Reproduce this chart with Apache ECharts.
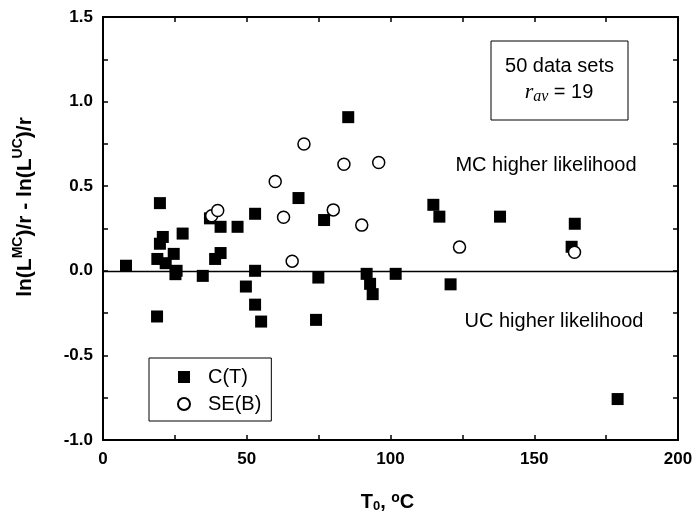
<!DOCTYPE html>
<html>
<head>
<meta charset="utf-8">
<script src="https://cdn.jsdelivr.net/npm/echarts@6/dist/echarts.min.js"></script>
<style>html,body{margin:0;padding:0;background:#fff}#c{width:697px;height:514px}</style>
</head>
<body>
<div id="c"></div>
<script>
// C(T) series (filled squares)
var ctX = [8.0, 19.8, 20.8, 19.8, 18.9, 21.8, 24.6, 25.6, 25.2, 27.7, 34.7, 18.8, 39.0, 40.9, 37.2, 40.9, 46.8, 52.9, 52.9, 49.7, 52.9, 55.0, 68.0, 76.9, 74.9, 74.1, 85.3, 91.7, 92.9, 93.8, 101.8, 114.9, 117.0, 120.9, 138.1, 164.1, 163.0, 179.0];
var ctY = [0.03, 0.40, 0.20, 0.16, 0.07, 0.045, 0.10, 0.00, -0.02, 0.22, -0.03, -0.27, 0.07, 0.105, 0.31, 0.26, 0.26, 0.337, 0.0, -0.093, -0.20, -0.30, 0.43, 0.30, -0.04, -0.29, 0.908, -0.018, -0.077, -0.138, -0.018, 0.39, 0.32, -0.08, 0.32, 0.278, 0.142, -0.758];
// SE(B) series (open circles)
var seX = [37.8, 39.9, 59.9, 62.8, 65.8, 69.9, 80.1, 83.8, 90.0, 95.9, 124.0, 164.0];
var seY = [0.325, 0.356, 0.528, 0.317, 0.057, 0.749, 0.36, 0.63, 0.27, 0.64, 0.14, 0.11];
var seriesNames = ['C(T)', 'SE(B)'];
var xTickLabels = ['0', '50', '100', '150', '200'];
var yTickLabels = ['-1.0', '-0.5', '0.0', '0.5', '1.0', '1.5'];

function pairs(xs, ys) { return xs.map(function (x, i) { return [x, ys[i]]; }); }

var FONT = '"Liberation Sans", Arial, sans-serif';
var chart = echarts.init(document.getElementById('c'), null, {renderer: 'canvas'});

var xLab = function (v) {
  var i = Math.round(v / 50);
  return Math.abs(v - i * 50) < 1e-6 ? xTickLabels[i] : '';
};
var yLab = function (v) {
  var i = Math.round((v + 1) / 0.5);
  return Math.abs(v + 1 - i * 0.5) < 1e-6 ? yTickLabels[i] : '';
};
var tick = {show: true, inside: true, length: 5, lineStyle: {color: '#000', width: 1.5}};
var line = {show: true, onZero: false, lineStyle: {color: '#000', width: 2}};

chart.setOption({
  animation: false,
  backgroundColor: '#fff',
  grid: {left: 103, right: 19, top: 17, bottom: 74, containLabel: false, outerBoundsMode: 'none'},
  xAxis: [{
    type: 'value', min: 0, max: 200, interval: 25, position: 'bottom',
    axisLine: line, axisTick: tick, splitLine: {show: false},
    axisLabel: {formatter: xLab, color: '#000', fontFamily: FONT, fontWeight: 'bold', fontSize: 17, margin: 11},
    name: '{n|T}{sub|0}{n|, }{sup|o}{n|C}', nameLocation: 'middle', nameGap: 51,
    nameTextStyle: {
      color: '#000', fontFamily: FONT, fontWeight: 'bold', padding: [0, 6, 0, 0],
      rich: {
        n: {fontSize: 20, fontWeight: 'bold', fontFamily: FONT, color: '#000', lineHeight: 22},
        sub: {fontSize: 13, fontWeight: 'bold', fontFamily: FONT, color: '#000', verticalAlign: 'bottom', lineHeight: 12},
        sup: {fontSize: 14, fontWeight: 'bold', fontFamily: FONT, color: '#000', verticalAlign: 'top', lineHeight: 12}
      }
    }
  }, {
    type: 'value', min: 0, max: 200, interval: 25, position: 'top',
    axisLine: line, axisTick: tick, splitLine: {show: false}, axisLabel: {show: false}
  }],
  yAxis: [{
    type: 'value', min: -1, max: 1.5, interval: 0.25, position: 'left',
    axisLine: line, axisTick: tick, splitLine: {show: false},
    axisLabel: {formatter: yLab, color: '#000', fontFamily: FONT, fontWeight: 'bold', fontSize: 17, margin: 10}
  }, {
    type: 'value', min: -1, max: 1.5, interval: 0.25, position: 'right',
    axisLine: line, axisTick: tick, splitLine: {show: false}, axisLabel: {show: false}
  }],
  legend: {
    orient: 'vertical', left: 149, top: 358,
    data: seriesNames,
    itemWidth: 12, itemHeight: 12, itemGap: 7,
    padding: [9, 10, 7, 28],
    borderColor: '#000', borderWidth: 1, backgroundColor: '#fff',
    textStyle: {fontFamily: FONT, fontSize: 20, color: '#000', lineHeight: 20, padding: [0, 0, 0, 13]}
  },
  graphic: [
    {type: 'rect', z: 100, shape: {x: 491, y: 41, width: 137, height: 79}, style: {fill: '#fff', stroke: '#000', lineWidth: 1}},
    {type: 'text', z: 101, x: 559.5, y: 66, style: {text: '50 data sets', font: '20px ' + FONT, fill: '#000', textAlign: 'center', textVerticalAlign: 'middle'}},
    {type: 'text', z: 101, x: 559, y: 92, style: {
      text: '{i|r}{s|av}{n| = 19}', textAlign: 'center', textVerticalAlign: 'middle',
      rich: {
        i: {fontFamily: '"Liberation Serif", serif', fontStyle: 'italic', fontSize: 22, fill: '#000', lineHeight: 26},
        s: {fontFamily: '"Liberation Serif", serif', fontStyle: 'italic', fontSize: 16, fill: '#000', verticalAlign: 'bottom', lineHeight: 16},
        n: {fontFamily: FONT, fontSize: 20, fill: '#000', lineHeight: 26}
      }
    }},
    {type: 'text', z: 101, x: 546, y: 165, style: {text: 'MC higher likelihood', font: '20px ' + FONT, fill: '#000', textAlign: 'center', textVerticalAlign: 'middle'}},
    {type: 'text', z: 101, x: 554, y: 321, style: {text: 'UC higher likelihood', font: '20px ' + FONT, fill: '#000', textAlign: 'center', textVerticalAlign: 'middle'}},
    {type: 'text', z: 101, x: 25, y: 207, rotation: Math.PI / 2, style: {
      text: '{n|ln(L}{p|MC}{n|)/r - ln(L}{p|UC}{n|)/r}', textAlign: 'center', textVerticalAlign: 'middle',
      rich: {
        n: {fontFamily: FONT, fontWeight: 'bold', fontSize: 21, fill: '#000', lineHeight: 27},
        p: {fontFamily: FONT, fontWeight: 'bold', fontSize: 14, fill: '#000', verticalAlign: 'top', lineHeight: 14}
      }
    }}
  ],
  series: [
    {
      type: 'line', data: [], silent: true, z: 1,
      markLine: {silent: true, symbol: 'none', label: {show: false}, lineStyle: {color: '#000', width: 1.3, type: 'solid'}, data: [{yAxis: 0}]}
    },
    {
      name: seriesNames[0], type: 'scatter', z: 3, symbol: 'rect', symbolSize: 12,
      itemStyle: {color: '#000', opacity: 1},
      data: pairs(ctX, ctY)
    },
    {
      name: seriesNames[1], type: 'scatter', z: 4, symbol: 'circle', symbolSize: 12,
      itemStyle: {color: '#fff', borderColor: '#000', borderWidth: 1.5, opacity: 1},
      data: pairs(seX, seY)
    }
  ]
});
</script>
</body>
</html>
